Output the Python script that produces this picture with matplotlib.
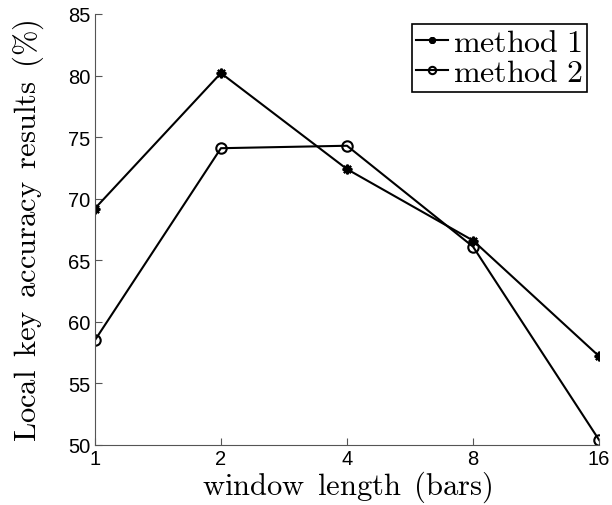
import matplotlib.pyplot as plt

plt.rcParams['mathtext.fontset'] = 'cm'
plt.rcParams['font.family'] = ['Liberation Sans', 'DejaVu Sans']

# window lengths (bars) and accuracy (%)
window = ['1', '2', '4', '8', '16']
method1 = [69.2, 80.2, 72.4, 66.6, 57.2]
method2 = [58.5, 74.1, 74.3, 66.1, 50.4]

fig = plt.figure(figsize=(6.12, 5.06), dpi=100)
ax = fig.add_axes([0.155, 0.1186, 0.824, 0.8518])

xs = range(len(window))
ax.plot(xs, method1, color='black', lw=1.5, marker=(8, 2, 0), ms=7, mew=1.6,
        label=r'$\mathrm{method\ 1}$')
ax.plot(xs, method2, color='black', lw=1.5, marker='o', ms=7.5, mfc='none', mew=1.5,
        label=r'$\mathrm{method\ 2}$')

ax.set_xlim(0, 4)
ax.set_ylim(50, 85)
ax.set_xticks(list(xs))
ax.set_xticklabels(window)
ax.set_yticks(range(50, 86, 5))

for s in ['top', 'right']:
    ax.spines[s].set_visible(False)
for s in ['left', 'bottom']:
    ax.spines[s].set_color('#555555')
ax.tick_params(direction='in', length=5, width=0.8, colors='#555555',
               labelcolor='black', labelsize=14.5, pad=3)

ax.set_xlabel(r'$\mathrm{window\ \,length\ \,(bars)}$', fontsize=22, labelpad=0)
ax.set_ylabel(r'$\mathrm{Local\ \,key\ \,accuracy\ \,results\ \,(\%)}$', fontsize=22,
              labelpad=16)

leg = ax.legend(loc='upper right', bbox_to_anchor=(0.976, 0.977), fontsize=23,
                fancybox=False, edgecolor='black', framealpha=1, markerscale=0.7,
                handlelength=1.0, handletextpad=0.15, borderpad=0.12,
                labelspacing=0.02, borderaxespad=0)
leg.get_frame().set_linewidth(1.2)

fig.savefig('out.png', dpi=100)
